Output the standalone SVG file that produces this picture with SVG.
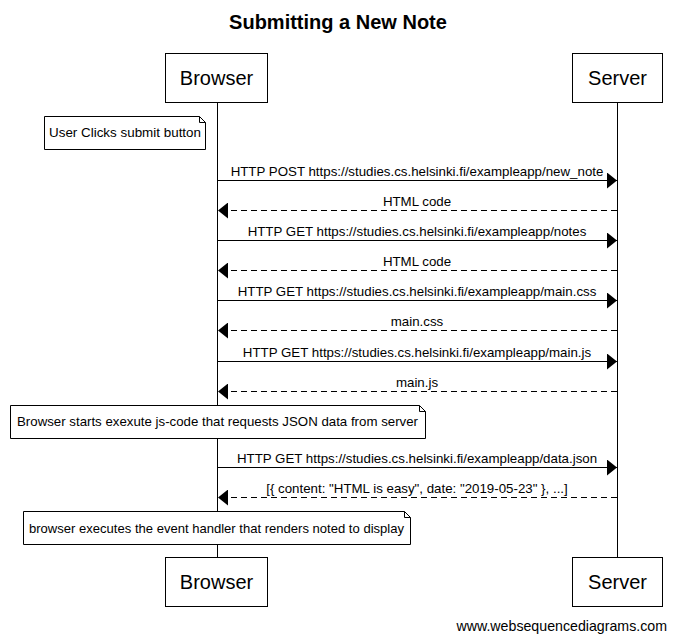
<svg xmlns="http://www.w3.org/2000/svg" width="676" height="641" viewBox="0 0 676 641">
<style>
text{font-family:"Liberation Sans",Arial,sans-serif;fill:#000}
.actor rect{fill:#fff;stroke:#000;stroke-width:1}
.actor text{font-size:20px;text-anchor:middle}
.life{stroke:#000;stroke-width:1}
.msg{stroke:#000;stroke-width:1;fill:none}
.ret{stroke-dasharray:6,4}
.lbl{font-size:13.3px;text-anchor:middle}
.note path{fill:#fff;stroke:#000;stroke-width:1}
.note text{font-size:13.3px}
</style>
<defs>
<marker id="ah" viewBox="0 0 10 16" refX="10" refY="8" markerWidth="10" markerHeight="16" markerUnits="userSpaceOnUse" orient="auto">
<path d="M0,0 L10,8 L0,16 Z" fill="#000"/>
</marker>
</defs>
<rect width="676" height="641" fill="#fff"/>
<text x="338" y="29" font-size="20" font-weight="bold" text-anchor="middle">Submitting a New Note</text>
<g id="lifelines">
<line class="life" x1="217.5" y1="102" x2="217.5" y2="558"/>
<line class="life" x1="617.5" y1="102" x2="617.5" y2="558"/>
</g>
<g id="browser-top" class="actor"><rect x="165.5" y="53.5" width="102" height="49"/><text x="216.5" y="85">Browser</text></g>
<g id="server-top" class="actor"><rect x="572.5" y="53.5" width="90" height="49"/><text x="617.5" y="85">Server</text></g>
<g id="browser-bottom" class="actor"><rect x="165.5" y="557.5" width="102" height="49"/><text x="216.5" y="589">Browser</text></g>
<g id="server-bottom" class="actor"><rect x="572.5" y="557.5" width="90" height="49"/><text x="617.5" y="589">Server</text></g>
<g id="note1" class="note"><path d="M44.5,116.5 H199.5 L205.5,122.5 V149.5 H44.5 Z M199.5,116.5 V122.5 H205.5"/><text x="49" y="137" textLength="152" lengthAdjust="spacingAndGlyphs">User Clicks submit button</text></g>
<g id="note2" class="note"><path d="M10.5,405.5 H419.5 L425.5,411.5 V438.5 H10.5 Z M419.5,405.5 V411.5 H425.5"/><text x="17" y="426" textLength="401" lengthAdjust="spacingAndGlyphs">Browser starts exexute js-code that requests JSON data from server</text></g>
<g id="note3" class="note"><path d="M23.5,511.5 H404.5 L410.5,517.5 V544.5 H23.5 Z M404.5,511.5 V517.5 H410.5"/><text x="29" y="533" textLength="375" lengthAdjust="spacingAndGlyphs">browser executes the event handler that renders noted to display</text></g>
<g id="connectors">
<line class="msg" x1="218" y1="180.5" x2="617" y2="180.5" marker-end="url(#ah)"/>
<text class="lbl" x="417" y="176">HTTP POST https://studies.cs.helsinki.fi/exampleapp/new_note</text>
<line class="msg ret" x1="617" y1="210.5" x2="218" y2="210.5" marker-end="url(#ah)"/>
<text class="lbl" x="417" y="206">HTML code</text>
<line class="msg" x1="218" y1="240.5" x2="617" y2="240.5" marker-end="url(#ah)"/>
<text class="lbl" x="417" y="236">HTTP GET https://studies.cs.helsinki.fi/exampleapp/notes</text>
<line class="msg ret" x1="617" y1="270.5" x2="218" y2="270.5" marker-end="url(#ah)"/>
<text class="lbl" x="417" y="266">HTML code</text>
<line class="msg" x1="218" y1="300.5" x2="617" y2="300.5" marker-end="url(#ah)"/>
<text class="lbl" x="417" y="296">HTTP GET https://studies.cs.helsinki.fi/exampleapp/main.css</text>
<line class="msg ret" x1="617" y1="330.5" x2="218" y2="330.5" marker-end="url(#ah)"/>
<text class="lbl" x="417" y="326">main.css</text>
<line class="msg" x1="218" y1="361.5" x2="617" y2="361.5" marker-end="url(#ah)"/>
<text class="lbl" x="417" y="357">HTTP GET https://studies.cs.helsinki.fi/exampleapp/main.js</text>
<line class="msg ret" x1="617" y1="391.5" x2="218" y2="391.5" marker-end="url(#ah)"/>
<text class="lbl" x="417" y="387">main.js</text>
<line class="msg" x1="218" y1="467.5" x2="617" y2="467.5" marker-end="url(#ah)"/>
<text class="lbl" x="417" y="463">HTTP GET https://studies.cs.helsinki.fi/exampleapp/data.json</text>
<line class="msg ret" x1="617" y1="497.5" x2="218" y2="497.5" marker-end="url(#ah)"/>
<text class="lbl" x="417" y="493">[{ content: "HTML is easy", date: "2019-05-23" }, ...]</text>
</g>
<text x="667" y="631" font-size="14.2" text-anchor="end">www.websequencediagrams.com</text>
</svg>
